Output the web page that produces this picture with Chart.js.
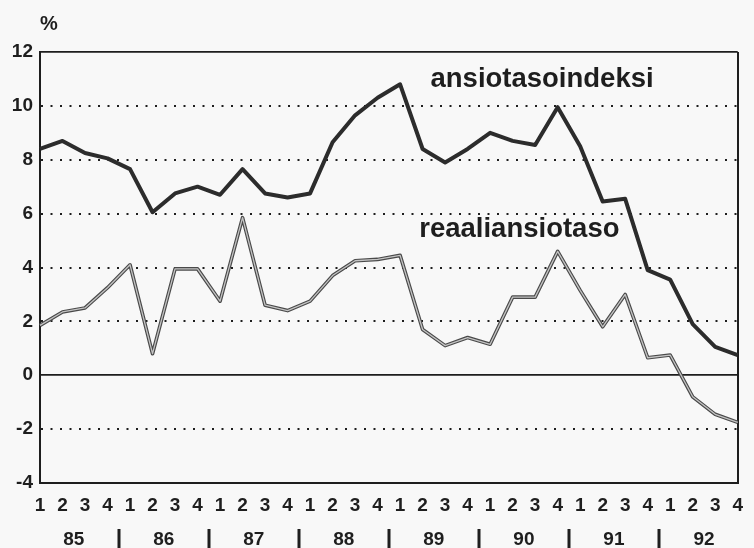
<!DOCTYPE html>
<html>
<head>
<meta charset="utf-8">
<script src="https://cdn.jsdelivr.net/npm/chart.js@4.4.0/dist/chart.umd.min.js"></script>
<style>
   html, body { margin: 0; padding: 0; background: #f8f8f8; }
   #wrap { width: 754px; height: 548px; }
</style>
</head>
<body>
<div id="wrap"><canvas id="chart"></canvas></div>
<script>
'use strict';

// quarters 1985 Q1 .. 1992 Q4
const quarters = [
   '1', '2', '3', '4', '1', '2', '3', '4', '1', '2', '3', '4', '1', '2', '3', '4',
   '1', '2', '3', '4', '1', '2', '3', '4', '1', '2', '3', '4', '1', '2', '3', '4'
];
const years = ['85', '86', '87', '88', '89', '90', '91', '92'];

const ansiotasoindeksi = [
   8.4, 8.7, 8.25, 8.05, 7.65, 6.05, 6.75, 7.0,
   6.7, 7.65, 6.75, 6.6, 6.75, 8.65, 9.65, 10.3,
   10.8, 8.4, 7.9, 8.4, 9.0, 8.7, 8.55, 9.95,
   8.5, 6.45, 6.55, 3.9, 3.55, 1.9, 1.05, 0.75
];
const reaaliansiotaso = [
   1.85, 2.35, 2.5, 3.25, 4.1, 0.8, 3.95, 3.95,
   2.75, 5.85, 2.6, 2.4, 2.75, 3.7, 4.25, 4.3,
   4.45, 1.7, 1.1, 1.4, 1.15, 2.9, 2.9, 4.6,
   3.15, 1.8, 3.0, 0.65, 0.75, -0.8, -1.45, -1.75
];

const yMin = -4;
const yMax = 12;
const yStep = 2;

// series names written inside the plot, anchored on (category index, value)
const seriesLabels = [
   { text: 'ansiotasoindeksi', index: 17.35, value: 10.7 },
   { text: 'reaaliansiotaso', index: 16.85, value: 5.15 }
];

const FONT = '"Liberation Sans", Arial, Helvetica, sans-serif';
const INK = '#1e1e1e';

const decorPlugin = {
   id: 'decor',
   afterDatasetsDraw(chart) {
      // hollow look of the real wage line
      const meta = chart.getDatasetMeta(1);
      const ctx = chart.ctx;
      ctx.save();
      ctx.beginPath();
      meta.data.forEach(function (pt, i) {
         if (i === 0) ctx.moveTo(pt.x, pt.y);
         else ctx.lineTo(pt.x, pt.y);
      });
      ctx.lineWidth = 1.3;
      ctx.strokeStyle = '#c4c4c4';
      ctx.lineJoin = 'round';
      ctx.stroke();
      ctx.restore();
   },
   afterDraw(chart) {
      const ctx = chart.ctx;
      const xs = chart.scales.x;
      const ys = chart.scales.y;
      const area = chart.chartArea;
      ctx.save();
      ctx.fillStyle = INK;

      // series labels
      ctx.font = 'bold 27.5px ' + FONT;
      ctx.textAlign = 'left';
      ctx.textBaseline = 'alphabetic';
      seriesLabels.forEach(function (l) {
         ctx.fillText(l.text, xs.getPixelForValue(l.index), ys.getPixelForValue(l.value));
      });

      // unit
      ctx.font = 'bold 20px ' + FONT;
      ctx.fillText('%', area.left, 30);

      // year row
      ctx.font = 'bold 19px ' + FONT;
      ctx.textAlign = 'center';
      ctx.textBaseline = 'middle';
      years.forEach(function (yr, i) {
         const cx = (xs.getPixelForValue(i * 4 + 1) + xs.getPixelForValue(i * 4 + 2)) / 2;
         ctx.fillText(yr, cx, 540);
         if (i < years.length - 1) {
            const sx = (xs.getPixelForValue(i * 4 + 3) + xs.getPixelForValue(i * 4 + 4)) / 2;
            ctx.fillRect(Math.round(sx) - 1.5, 529, 3, 19);
         }
      });
      ctx.restore();
   }
};

new Chart(document.getElementById('chart'), {
   type: 'line',
   data: {
      labels: quarters,
      datasets: [{
         label: 'ansiotasoindeksi',
         data: ansiotasoindeksi,
         borderColor: '#2c2c2c',
         borderWidth: 4,
         pointRadius: 0,
         tension: 0,
         borderJoinStyle: 'round'
      }, {
         label: 'reaaliansiotaso',
         data: reaaliansiotaso,
         borderColor: '#4a4a4a',
         borderWidth: 3.6,
         pointRadius: 0,
         tension: 0,
         borderJoinStyle: 'round'
      }]
   },
   options: {
      animation: false,
      responsive: true,
      maintainAspectRatio: false,
      devicePixelRatio: 1,
      layout: {
         padding: { top: 52, right: 5, left: 0, bottom: 0 }
      },
      plugins: {
         legend: { display: false },
         tooltip: { enabled: false }
      },
      scales: {
         x: {
            offset: false,
            grid: {
               drawTicks: false,
               lineWidth: 2,
               color: function (c) {
                  return c.index === quarters.length - 1 ? INK : 'transparent';
               }
            },
            border: { color: INK, width: 2 },
            ticks: {
               autoSkip: false,
               maxRotation: 0,
               minRotation: 0,
               padding: 11,
               color: INK,
               font: { family: FONT, size: 19, weight: 'bold' }
            },
            afterFit: function (scale) {
               scale.height = 65;
            }
         },
         y: {
            min: yMin,
            max: yMax,
            ticks: {
               stepSize: yStep,
               padding: 7,
               color: INK,
               font: { family: FONT, size: 19, weight: 'bold' }
            },
            grid: {
               drawTicks: false,
               color: INK,
               lineWidth: function (c) {
                  const v = c.tick ? c.tick.value : null;
                  return (v === 0 || v === yMax) ? 1.8 : 2;
               }
            },
            border: {
               color: INK,
               width: 2,
               dash: function (c) {
                  const v = c.tick ? c.tick.value : null;
                  if (v === null || v === 0 || v === yMax || v === yMin) return [];
                  return [2, 7.5];
               }
            },
            afterFit: function (scale) {
               scale.width = 40;
            }
         }
      }
   },
   plugins: [decorPlugin]
});
</script>
</body>
</html>
